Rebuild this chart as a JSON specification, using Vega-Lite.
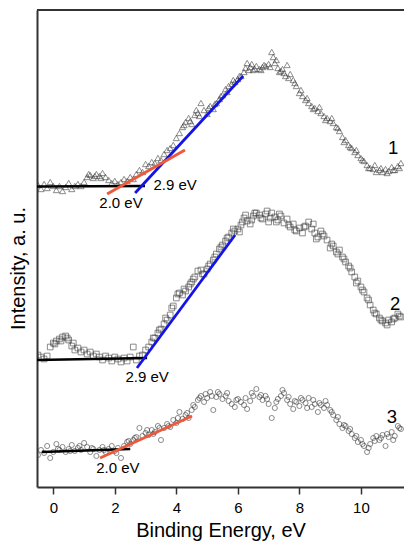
{
  "$schema": "https://vega.github.io/schema/vega-lite/v6.json",
  "width": 367,
  "height": 477,
  "autosize": {"type": "none"},
  "padding": {"left": 37, "top": 10, "right": 0, "bottom": 55},
  "background": "white",
  "config": {
    "view": {"stroke": null},
    "font": "Liberation Sans",
    "axis": {"grid": false, "domainColor": "#333333", "domainWidth": 2, "labelFont": "Liberation Sans", "titleFont": "Liberation Sans", "titleFontWeight": "normal", "labelColor": "#000000", "titleColor": "#000000"}
  },
  "datasets": {
    "pts": [
      {"s":1,"x":-0.5,"y":302},{"s":1,"x":-0.4,"y":298},{"s":1,"x":-0.3,"y":303},{"s":1,"x":-0.2,"y":299},{"s":1,"x":-0.1,"y":305},{"s":1,"x":0.0,"y":301},{"s":1,"x":0.1,"y":297},{"s":1,"x":0.2,"y":301},{"s":1,"x":0.3,"y":296},{"s":1,"x":0.4,"y":300},{"s":1,"x":0.5,"y":304},{"s":1,"x":0.6,"y":298},{"s":1,"x":0.7,"y":301},{"s":1,"x":0.8,"y":303},{"s":1,"x":0.9,"y":301},{"s":1,"x":1.0,"y":305},{"s":1,"x":1.1,"y":310},{"s":1,"x":1.2,"y":312},{"s":1,"x":1.3,"y":309},{"s":1,"x":1.4,"y":313},{"s":1,"x":1.5,"y":311},{"s":1,"x":1.6,"y":314},{"s":1,"x":1.7,"y":310},{"s":1,"x":1.8,"y":307},{"s":1,"x":1.9,"y":304},{"s":1,"x":2.0,"y":306},{"s":1,"x":2.1,"y":303},{"s":1,"x":2.2,"y":305},{"s":1,"x":2.3,"y":308},{"s":1,"x":2.4,"y":306},{"s":1,"x":2.5,"y":310},{"s":1,"x":2.6,"y":308},{"s":1,"x":2.7,"y":313},{"s":1,"x":2.8,"y":317},{"s":1,"x":2.9,"y":315},{"s":1,"x":3.0,"y":323},{"s":1,"x":3.1,"y":321},{"s":1,"x":3.2,"y":325},{"s":1,"x":3.3,"y":324},{"s":1,"x":3.4,"y":329},{"s":1,"x":3.5,"y":327},{"s":1,"x":3.6,"y":333},{"s":1,"x":3.7,"y":337},{"s":1,"x":3.8,"y":339},{"s":1,"x":3.9,"y":342},{"s":1,"x":4.0,"y":349},{"s":1,"x":4.1,"y":354},{"s":1,"x":4.2,"y":360},{"s":1,"x":4.3,"y":365},{"s":1,"x":4.4,"y":369},{"s":1,"x":4.5,"y":363},{"s":1,"x":4.6,"y":372},{"s":1,"x":4.7,"y":374},{"s":1,"x":4.8,"y":384},{"s":1,"x":4.9,"y":377},{"s":1,"x":5.0,"y":373},{"s":1,"x":5.1,"y":381},{"s":1,"x":5.2,"y":378},{"s":1,"x":5.3,"y":384},{"s":1,"x":5.4,"y":388},{"s":1,"x":5.5,"y":392},{"s":1,"x":5.6,"y":398},{"s":1,"x":5.7,"y":401},{"s":1,"x":5.8,"y":403},{"s":1,"x":5.9,"y":405},{"s":1,"x":6.0,"y":408},{"s":1,"x":6.1,"y":411},{"s":1,"x":6.2,"y":415},{"s":1,"x":6.3,"y":424},{"s":1,"x":6.4,"y":420},{"s":1,"x":6.5,"y":417},{"s":1,"x":6.6,"y":421},{"s":1,"x":6.7,"y":418},{"s":1,"x":6.8,"y":420},{"s":1,"x":6.9,"y":421},{"s":1,"x":7.0,"y":423},{"s":1,"x":7.1,"y":435},{"s":1,"x":7.15,"y":430},{"s":1,"x":7.2,"y":424},{"s":1,"x":7.3,"y":419},{"s":1,"x":7.4,"y":416},{"s":1,"x":7.5,"y":414},{"s":1,"x":7.6,"y":422},{"s":1,"x":7.7,"y":413},{"s":1,"x":7.8,"y":407},{"s":1,"x":7.9,"y":401},{"s":1,"x":8.0,"y":394},{"s":1,"x":8.1,"y":391},{"s":1,"x":8.2,"y":387},{"s":1,"x":8.3,"y":384},{"s":1,"x":8.4,"y":381},{"s":1,"x":8.5,"y":379},{"s":1,"x":8.6,"y":376},{"s":1,"x":8.7,"y":374},{"s":1,"x":8.8,"y":371},{"s":1,"x":8.9,"y":369},{"s":1,"x":9.0,"y":366},{"s":1,"x":9.1,"y":364},{"s":1,"x":9.2,"y":360},{"s":1,"x":9.3,"y":356},{"s":1,"x":9.4,"y":350},{"s":1,"x":9.5,"y":347},{"s":1,"x":9.6,"y":342},{"s":1,"x":9.7,"y":339},{"s":1,"x":9.8,"y":335},{"s":1,"x":9.9,"y":332},{"s":1,"x":10.0,"y":329},{"s":1,"x":10.1,"y":326},{"s":1,"x":10.2,"y":322},{"s":1,"x":10.3,"y":319},{"s":1,"x":10.4,"y":318},{"s":1,"x":10.5,"y":315},{"s":1,"x":10.6,"y":317},{"s":1,"x":10.7,"y":315},{"s":1,"x":10.8,"y":318},{"s":1,"x":10.9,"y":316},{"s":1,"x":11.0,"y":320},{"s":1,"x":11.1,"y":317},{"s":1,"x":11.2,"y":321},{"s":1,"x":11.3,"y":324},
      {"s":1,"x":1.15,"y":313},{"s":1,"x":1.35,"y":311},{"s":1,"x":1.55,"y":309},{"s":1,"x":4.25,"y":362},{"s":1,"x":4.45,"y":366},{"s":1,"x":4.65,"y":377},{"s":1,"x":4.75,"y":371},{"s":1,"x":5.05,"y":379},{"s":1,"x":5.25,"y":383},{"s":1,"x":5.45,"y":391},{"s":1,"x":5.65,"y":395},{"s":1,"x":5.85,"y":407},{"s":1,"x":6.05,"y":411},{"s":1,"x":6.25,"y":419},{"s":1,"x":6.35,"y":417},{"s":1,"x":6.45,"y":423},{"s":1,"x":6.55,"y":418},{"s":1,"x":6.75,"y":417},{"s":1,"x":6.85,"y":422},{"s":1,"x":7.05,"y":420},{"s":1,"x":7.25,"y":427},{"s":1,"x":7.35,"y":415},{"s":1,"x":7.45,"y":418},{"s":1,"x":7.55,"y":411},{"s":1,"x":7.65,"y":409},{"s":1,"x":7.85,"y":404},{"s":1,"x":8.05,"y":397},{"s":1,"x":8.25,"y":389},{"s":1,"x":8.45,"y":378},{"s":1,"x":8.65,"y":380},{"s":1,"x":8.85,"y":367},{"s":1,"x":9.05,"y":369},{"s":1,"x":9.25,"y":359},{"s":1,"x":9.45,"y":345},{"s":1,"x":9.65,"y":340},{"s":1,"x":9.85,"y":337},{"s":1,"x":10.05,"y":327},{"s":1,"x":10.25,"y":319},{"s":1,"x":10.45,"y":322},{"s":1,"x":10.65,"y":319},{"s":1,"x":10.85,"y":314},{"s":1,"x":11.05,"y":317},{"s":1,"x":11.25,"y":319},
      {"s":2,"x":-0.5,"y":132},{"s":2,"x":-0.4,"y":130},{"s":2,"x":-0.3,"y":128},{"s":2,"x":-0.2,"y":131},{"s":2,"x":-0.1,"y":140},{"s":2,"x":0.0,"y":144},{"s":2,"x":0.1,"y":146},{"s":2,"x":0.2,"y":148},{"s":2,"x":0.3,"y":150},{"s":2,"x":0.4,"y":151},{"s":2,"x":0.5,"y":147},{"s":2,"x":0.6,"y":141},{"s":2,"x":0.7,"y":137},{"s":2,"x":0.8,"y":139},{"s":2,"x":0.9,"y":135},{"s":2,"x":1.0,"y":137},{"s":2,"x":1.1,"y":133},{"s":2,"x":1.2,"y":135},{"s":2,"x":1.3,"y":131},{"s":2,"x":1.4,"y":133},{"s":2,"x":1.5,"y":130},{"s":2,"x":1.6,"y":127},{"s":2,"x":1.7,"y":131},{"s":2,"x":1.8,"y":129},{"s":2,"x":1.9,"y":126},{"s":2,"x":2.0,"y":130},{"s":2,"x":2.1,"y":128},{"s":2,"x":2.2,"y":125},{"s":2,"x":2.3,"y":129},{"s":2,"x":2.4,"y":126},{"s":2,"x":2.5,"y":130},{"s":2,"x":2.6,"y":140},{"s":2,"x":2.7,"y":127},{"s":2,"x":2.8,"y":131},{"s":2,"x":2.9,"y":132},{"s":2,"x":3.0,"y":137},{"s":2,"x":3.1,"y":140},{"s":2,"x":3.2,"y":145},{"s":2,"x":3.3,"y":149},{"s":2,"x":3.4,"y":154},{"s":2,"x":3.5,"y":158},{"s":2,"x":3.6,"y":163},{"s":2,"x":3.7,"y":167},{"s":2,"x":3.8,"y":172},{"s":2,"x":3.9,"y":181},{"s":2,"x":4.0,"y":189},{"s":2,"x":4.1,"y":194},{"s":2,"x":4.2,"y":192},{"s":2,"x":4.3,"y":196},{"s":2,"x":4.4,"y":200},{"s":2,"x":4.5,"y":205},{"s":2,"x":4.6,"y":210},{"s":2,"x":4.7,"y":216},{"s":2,"x":4.8,"y":217},{"s":2,"x":4.9,"y":213},{"s":2,"x":5.0,"y":218},{"s":2,"x":5.1,"y":223},{"s":2,"x":5.2,"y":227},{"s":2,"x":5.3,"y":233},{"s":2,"x":5.4,"y":238},{"s":2,"x":5.5,"y":242},{"s":2,"x":5.6,"y":246},{"s":2,"x":5.7,"y":250},{"s":2,"x":5.8,"y":254},{"s":2,"x":5.9,"y":256},{"s":2,"x":6.0,"y":258},{"s":2,"x":6.1,"y":262},{"s":2,"x":6.2,"y":269},{"s":2,"x":6.3,"y":266},{"s":2,"x":6.4,"y":263},{"s":2,"x":6.5,"y":271},{"s":2,"x":6.6,"y":274},{"s":2,"x":6.7,"y":272},{"s":2,"x":6.8,"y":268},{"s":2,"x":6.9,"y":273},{"s":2,"x":7.0,"y":265},{"s":2,"x":7.1,"y":274},{"s":2,"x":7.2,"y":270},{"s":2,"x":7.3,"y":267},{"s":2,"x":7.4,"y":271},{"s":2,"x":7.5,"y":264},{"s":2,"x":7.6,"y":268},{"s":2,"x":7.7,"y":260},{"s":2,"x":7.8,"y":263},{"s":2,"x":7.9,"y":256},{"s":2,"x":8.0,"y":259},{"s":2,"x":8.1,"y":254},{"s":2,"x":8.2,"y":261},{"s":2,"x":8.3,"y":265},{"s":2,"x":8.4,"y":258},{"s":2,"x":8.5,"y":254},{"s":2,"x":8.6,"y":250},{"s":2,"x":8.7,"y":256},{"s":2,"x":8.8,"y":251},{"s":2,"x":8.9,"y":247},{"s":2,"x":9.0,"y":239},{"s":2,"x":9.1,"y":241},{"s":2,"x":9.2,"y":235},{"s":2,"x":9.3,"y":237},{"s":2,"x":9.4,"y":230},{"s":2,"x":9.5,"y":225},{"s":2,"x":9.6,"y":221},{"s":2,"x":9.7,"y":215},{"s":2,"x":9.8,"y":210},{"s":2,"x":9.9,"y":206},{"s":2,"x":10.0,"y":200},{"s":2,"x":10.1,"y":195},{"s":2,"x":10.2,"y":189},{"s":2,"x":10.3,"y":182},{"s":2,"x":10.4,"y":177},{"s":2,"x":10.5,"y":173},{"s":2,"x":10.6,"y":169},{"s":2,"x":10.7,"y":166},{"s":2,"x":10.8,"y":164},{"s":2,"x":10.9,"y":167},{"s":2,"x":11.0,"y":165},{"s":2,"x":11.1,"y":169},{"s":2,"x":11.2,"y":173},{"s":2,"x":11.3,"y":170},
      {"s":2,"x":0.05,"y":143},{"s":2,"x":0.25,"y":146},{"s":2,"x":0.45,"y":149},{"s":2,"x":0.65,"y":144},{"s":2,"x":3.25,"y":149},{"s":2,"x":3.45,"y":157},{"s":2,"x":3.65,"y":169},{"s":2,"x":3.85,"y":179},{"s":2,"x":4.05,"y":193},{"s":2,"x":4.25,"y":198},{"s":2,"x":4.45,"y":203},{"s":2,"x":4.55,"y":208},{"s":2,"x":4.85,"y":213},{"s":2,"x":5.05,"y":221},{"s":2,"x":5.25,"y":230},{"s":2,"x":5.45,"y":240},{"s":2,"x":5.65,"y":249},{"s":2,"x":5.85,"y":258},{"s":2,"x":6.05,"y":255},{"s":2,"x":6.15,"y":265},{"s":2,"x":6.25,"y":272},{"s":2,"x":6.45,"y":267},{"s":2,"x":6.55,"y":274},{"s":2,"x":6.75,"y":269},{"s":2,"x":6.95,"y":276},{"s":2,"x":7.05,"y":269},{"s":2,"x":7.25,"y":265},{"s":2,"x":7.35,"y":273},{"s":2,"x":7.65,"y":262},{"s":2,"x":7.85,"y":257},{"s":2,"x":8.15,"y":260},{"s":2,"x":8.45,"y":263},{"s":2,"x":8.55,"y":248},{"s":2,"x":8.75,"y":253},{"s":2,"x":9.05,"y":243},{"s":2,"x":9.25,"y":233},{"s":2,"x":9.45,"y":228},{"s":2,"x":9.65,"y":219},{"s":2,"x":9.85,"y":204},{"s":2,"x":10.05,"y":197},{"s":2,"x":10.25,"y":187},{"s":2,"x":10.45,"y":174},{"s":2,"x":10.65,"y":167},{"s":2,"x":10.85,"y":162},{"s":2,"x":11.05,"y":168},{"s":2,"x":11.25,"y":171},
      {"s":3,"x":-0.5,"y":32},{"s":3,"x":-0.4,"y":37},{"s":3,"x":-0.3,"y":34},{"s":3,"x":-0.2,"y":41},{"s":3,"x":-0.1,"y":29},{"s":3,"x":0.0,"y":35},{"s":3,"x":0.1,"y":43},{"s":3,"x":0.2,"y":37},{"s":3,"x":0.3,"y":40},{"s":3,"x":0.4,"y":35},{"s":3,"x":0.5,"y":38},{"s":3,"x":0.6,"y":42},{"s":3,"x":0.7,"y":36},{"s":3,"x":0.8,"y":39},{"s":3,"x":0.9,"y":37},{"s":3,"x":1.0,"y":44},{"s":3,"x":1.1,"y":40},{"s":3,"x":1.2,"y":35},{"s":3,"x":1.3,"y":38},{"s":3,"x":1.4,"y":31},{"s":3,"x":1.5,"y":37},{"s":3,"x":1.6,"y":40},{"s":3,"x":1.7,"y":35},{"s":3,"x":1.8,"y":38},{"s":3,"x":1.9,"y":41},{"s":3,"x":2.0,"y":36},{"s":3,"x":2.1,"y":39},{"s":3,"x":2.2,"y":29},{"s":3,"x":2.3,"y":41},{"s":3,"x":2.4,"y":45},{"s":3,"x":2.5,"y":43},{"s":3,"x":2.6,"y":47},{"s":3,"x":2.7,"y":50},{"s":3,"x":2.8,"y":59},{"s":3,"x":2.9,"y":51},{"s":3,"x":3.0,"y":54},{"s":3,"x":3.1,"y":52},{"s":3,"x":3.2,"y":57},{"s":3,"x":3.3,"y":55},{"s":3,"x":3.4,"y":61},{"s":3,"x":3.5,"y":47},{"s":3,"x":3.6,"y":59},{"s":3,"x":3.7,"y":63},{"s":3,"x":3.8,"y":60},{"s":3,"x":3.9,"y":67},{"s":3,"x":4.0,"y":64},{"s":3,"x":4.1,"y":75},{"s":3,"x":4.2,"y":68},{"s":3,"x":4.3,"y":72},{"s":3,"x":4.4,"y":69},{"s":3,"x":4.5,"y":77},{"s":3,"x":4.6,"y":80},{"s":3,"x":4.7,"y":87},{"s":3,"x":4.8,"y":91},{"s":3,"x":4.9,"y":85},{"s":3,"x":5.0,"y":89},{"s":3,"x":5.1,"y":95},{"s":3,"x":5.2,"y":77},{"s":3,"x":5.3,"y":90},{"s":3,"x":5.4,"y":93},{"s":3,"x":5.5,"y":88},{"s":3,"x":5.6,"y":91},{"s":3,"x":5.7,"y":86},{"s":3,"x":5.8,"y":83},{"s":3,"x":5.9,"y":80},{"s":3,"x":6.0,"y":88},{"s":3,"x":6.1,"y":85},{"s":3,"x":6.2,"y":82},{"s":3,"x":6.3,"y":78},{"s":3,"x":6.4,"y":86},{"s":3,"x":6.5,"y":91},{"s":3,"x":6.6,"y":98},{"s":3,"x":6.7,"y":90},{"s":3,"x":6.8,"y":87},{"s":3,"x":6.9,"y":91},{"s":3,"x":7.0,"y":83},{"s":3,"x":7.1,"y":69},{"s":3,"x":7.2,"y":79},{"s":3,"x":7.3,"y":88},{"s":3,"x":7.4,"y":91},{"s":3,"x":7.5,"y":94},{"s":3,"x":7.6,"y":87},{"s":3,"x":7.7,"y":83},{"s":3,"x":7.8,"y":78},{"s":3,"x":7.9,"y":85},{"s":3,"x":8.0,"y":81},{"s":3,"x":8.1,"y":87},{"s":3,"x":8.2,"y":84},{"s":3,"x":8.3,"y":89},{"s":3,"x":8.4,"y":80},{"s":3,"x":8.5,"y":83},{"s":3,"x":8.6,"y":75},{"s":3,"x":8.7,"y":82},{"s":3,"x":8.8,"y":79},{"s":3,"x":8.9,"y":82},{"s":3,"x":9.0,"y":77},{"s":3,"x":9.1,"y":72},{"s":3,"x":9.2,"y":67},{"s":3,"x":9.3,"y":63},{"s":3,"x":9.4,"y":59},{"s":3,"x":9.5,"y":61},{"s":3,"x":9.6,"y":56},{"s":3,"x":9.7,"y":53},{"s":3,"x":9.8,"y":49},{"s":3,"x":9.9,"y":45},{"s":3,"x":10.0,"y":47},{"s":3,"x":10.1,"y":41},{"s":3,"x":10.2,"y":35},{"s":3,"x":10.3,"y":43},{"s":3,"x":10.4,"y":49},{"s":3,"x":10.5,"y":51},{"s":3,"x":10.6,"y":47},{"s":3,"x":10.7,"y":52},{"s":3,"x":10.8,"y":41},{"s":3,"x":10.9,"y":50},{"s":3,"x":11.0,"y":55},{"s":3,"x":11.1,"y":51},{"s":3,"x":11.2,"y":61},{"s":3,"x":11.3,"y":58},
      {"s":3,"x":0.15,"y":38},{"s":3,"x":0.55,"y":36},{"s":3,"x":0.85,"y":41},{"s":3,"x":1.25,"y":39},{"s":3,"x":1.65,"y":37},{"s":3,"x":2.05,"y":34},{"s":3,"x":2.45,"y":46},{"s":3,"x":2.65,"y":49},{"s":3,"x":3.05,"y":57},{"s":3,"x":3.25,"y":53},{"s":3,"x":3.45,"y":59},{"s":3,"x":3.75,"y":61},{"s":3,"x":4.05,"y":69},{"s":3,"x":4.35,"y":74},{"s":3,"x":4.55,"y":82},{"s":3,"x":4.75,"y":89},{"s":3,"x":4.95,"y":93},{"s":3,"x":5.15,"y":91},{"s":3,"x":5.35,"y":95},{"s":3,"x":5.65,"y":94},{"s":3,"x":5.95,"y":87},{"s":3,"x":6.25,"y":89},{"s":3,"x":6.45,"y":94},{"s":3,"x":6.75,"y":92},{"s":3,"x":6.95,"y":88},{"s":3,"x":7.25,"y":85},{"s":3,"x":7.45,"y":97},{"s":3,"x":7.65,"y":90},{"s":3,"x":7.85,"y":86},{"s":3,"x":8.05,"y":89},{"s":3,"x":8.25,"y":79},{"s":3,"x":8.45,"y":87},{"s":3,"x":8.65,"y":84},{"s":3,"x":8.85,"y":86},{"s":3,"x":9.05,"y":75},{"s":3,"x":9.25,"y":70},{"s":3,"x":9.45,"y":62},{"s":3,"x":9.65,"y":58},{"s":3,"x":9.85,"y":51},{"s":3,"x":10.05,"y":43},{"s":3,"x":10.25,"y":39},{"s":3,"x":10.45,"y":46},{"s":3,"x":10.65,"y":49},{"s":3,"x":10.85,"y":53},{"s":3,"x":11.05,"y":47},{"s":3,"x":11.25,"y":59}
    ],
    "fits": [
      {"seg":"k1","fit":"baseline","x":-0.53,"y":300.5},{"seg":"k1","fit":"baseline","x":2.98,"y":301},
      {"seg":"b1","fit":"edge 2.9","x":2.66,"y":294},{"seg":"b1","fit":"edge 2.9","x":6.17,"y":411},
      {"seg":"r1","fit":"edge 2.0","x":1.75,"y":293},{"seg":"r1","fit":"edge 2.0","x":4.28,"y":337},
      {"seg":"k2","fit":"baseline","x":-0.53,"y":127},{"seg":"k2","fit":"baseline","x":3.05,"y":129},
      {"seg":"b2","fit":"edge 2.9","x":2.72,"y":119},{"seg":"b2","fit":"edge 2.9","x":5.91,"y":252},
      {"seg":"k3","fit":"baseline","x":-0.37,"y":35},{"seg":"k3","fit":"baseline","x":2.5,"y":38},
      {"seg":"r3","fit":"edge 2.0","x":1.52,"y":29},{"seg":"r3","fit":"edge 2.0","x":4.51,"y":71}
    ],
    "labels": [
      {"t":"1","x":11.05,"y":339},{"t":"2","x":11.11,"y":183},{"t":"3","x":11.01,"y":70}
    ],
    "elabels": [
      {"t":"2.9 eV","x":3.96,"y":302},{"t":"2.0 eV","x":2.2,"y":284},{"t":"2.9 eV","x":3.05,"y":110},{"t":"2.0 eV","x":2.1,"y":19}
    ]
  },
  "layer": [
    {
      "data": {"name": "pts"},
      "mark": {"type": "point", "filled": false, "stroke": "#333333", "strokeWidth": 0.8, "clip": true},
      "encoding": {
        "x": {"field": "x", "type": "quantitative", "scale": {"domain": [-0.53, 11.4], "nice": false, "zero": false},
          "axis": {"values": [0, 2, 4, 6, 8, 10], "title": "Binding Energy, eV", "tickSize": 7, "tickWidth": 1.5, "tickColor": "#333333", "labelFontSize": 15, "labelPadding": 6, "titleFontSize": 20, "titlePadding": 5}},
        "y": {"field": "y", "type": "quantitative", "scale": {"domain": [0, 477], "nice": false, "zero": false},
          "axis": {"labels": false, "ticks": false, "title": "Intensity, a. u.", "titleFontSize": 20, "titleX": -19, "titleY": 258, "titleBaseline": "middle", "titleAlign": "center", "titleAngle": -90}},
        "shape": {"field": "s", "type": "nominal", "scale": {"domain": [1, 2, 3], "range": ["triangle-up", "square", "circle"]}, "legend": null},
        "size": {"field": "s", "type": "nominal", "scale": {"domain": [1, 2, 3], "range": [38, 26, 30]}, "legend": null}
      }
    },
    {
      "data": {"name": "fits"},
      "mark": {"type": "line", "clip": true, "strokeCap": "butt"},
      "encoding": {
        "x": {"field": "x", "type": "quantitative"},
        "y": {"field": "y", "type": "quantitative"},
        "detail": {"field": "seg", "type": "nominal"},
        "color": {"field": "fit", "type": "nominal", "scale": {"domain": ["baseline", "edge 2.9", "edge 2.0"], "range": ["#000000", "#1414e6", "#ec5a3c"]}, "legend": null},
        "strokeWidth": {"field": "fit", "type": "nominal", "scale": {"domain": ["baseline", "edge 2.9", "edge 2.0"], "range": [2.5, 3, 2.5]}, "legend": null}
      }
    },
    {
      "data": {"values": [{}]},
      "mark": {"type": "rule", "color": "#333333", "strokeWidth": 2},
      "encoding": {"y": {"datum": 477}}
    },
    {
      "data": {"name": "labels"},
      "mark": {"type": "text", "fontSize": 18.5, "font": "Liberation Sans", "color": "#000000", "align": "center", "baseline": "middle"},
      "encoding": {"x": {"field": "x", "type": "quantitative"}, "y": {"field": "y", "type": "quantitative"}, "text": {"field": "t"}}
    },
    {
      "data": {"name": "elabels"},
      "mark": {"type": "text", "fontSize": 15, "font": "Liberation Sans", "color": "#000000", "align": "center", "baseline": "middle"},
      "encoding": {"x": {"field": "x", "type": "quantitative"}, "y": {"field": "y", "type": "quantitative"}, "text": {"field": "t"}}
    }
  ]
}
